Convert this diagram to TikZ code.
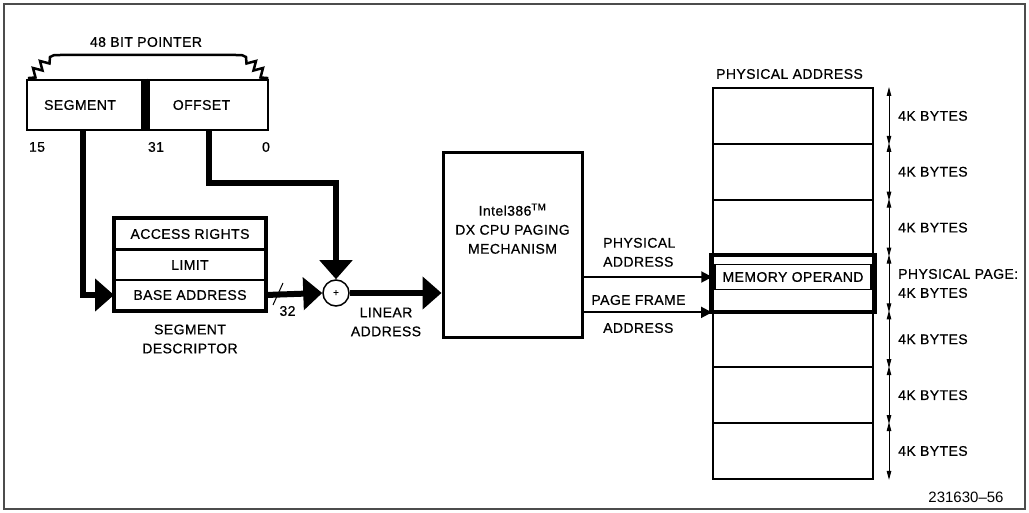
\documentclass[tikz,border=0pt]{standalone}
\usepackage{fontspec}
\setmainfont{Liberation Sans}[FakeBold=0.6, LetterSpace=3]
\newfontfamily\plainsans{Liberation Sans}[Ligatures=TeX]
\usetikzlibrary{arrows.meta,positioning,calc}
\tikzset{
    every node/.style={font=\fontsize{14}{19}\selectfont, inner sep=0pt},
    box/.style={draw, line width=2.5pt, minimum height=50pt},
    descrow/.style={draw, line width=2pt, minimum width=150pt, minimum height=30pt},
    memrow/.style={draw, line width=2pt, minimum width=160pt, minimum height=55.85pt},
    bus/.style={line width=6pt, -{Triangle[length=19pt,width=32pt]}},
    wire/.style={line width=2pt, -{Triangle[length=11pt,width=11pt]}},
    sizearrow/.style={line width=1pt, {Triangle[length=9pt,width=4.5pt]}-{Triangle[length=9pt,width=4.5pt]}}
}

\begin{document}
\begin{tikzpicture}[x=1pt,y=-1pt]
    \useasboundingbox (0,0) rectangle (1029,513);
    \draw[gray!60!black, line width=1.5pt] (4,4) rectangle (1025,509);
    % 48 bit pointer
    \node (ptrlabel) at (146,42) {48 BIT POINTER};
    \node[box, minimum width=116pt] (seg) at (85,105) {SEGMENT\hspace*{10pt}};
    \node[box, minimum width=119pt] (off) at (208.5,105) {OFFSET\hspace*{14pt}};
    \draw[line width=7pt] (seg.north east) -- (seg.south east);
    \draw[line width=2.5pt, line join=miter] (29,81) -- (29,78) -- (35.5,77.5) -- (33,68) -- (42.5,70.5) -- (40,61) -- (49.5,63.5) -- (50,57)
        .. controls (53,55) .. (62,55) -- (234,55) .. controls (243,55) .. (246,57)
        -- (246.5,63.5) -- (256,61) -- (253.5,70.5) -- (263,68) -- (260.5,77.5) -- (267,78) -- (267,81);
    \node (b15) at (37,147) {15};
    \node (b31) at (156,147) {31};
    \node (b0) at (266,147) {0};
    % segment descriptor
    \node[descrow] (access) at (190,234) {ACCESS RIGHTS};
    \node[descrow] (limit) at (190,265) {LIMIT};
    \node[descrow] (base) at (190,295) {BASE ADDRESS};
    \draw[line width=3.5pt] (access.north west) rectangle (base.south east);
    \node[align=center] (desclabel) at (190,339) {SEGMENT\\DESCRIPTOR};
    % adder and paging unit
    \node[draw, circle, line width=1.5pt, minimum size=26pt, font=\fontsize{10}{12}\selectfont] (sum) at (336,293) {+};
    \node[draw, line width=3pt, minimum width=139pt, minimum height=185pt] (paging) at (512.5,245.5) {};
    \node[align=center, anchor=north] (pagingtext) at ([yshift=-52pt]paging.north) {Intel386\textsuperscript{TM}\\DX CPU PAGING\\MECHANISM};
    % physical memory
    \node (memlabel) at (789.5,74) {PHYSICAL ADDRESS};
    \foreach \i in {1,...,7}
        \node[memrow] (m\i) at (793,60.05+55.85*\i) {};
    \draw[line width=3.5pt] ([xshift=-1pt]m4.north west) rectangle ([xshift=1pt]m4.south east);
    \node[draw, line width=1.5pt, minimum width=156pt, minimum height=25pt] (operand) at (793,277) {MEMORY OPERAND};
    \foreach \i in {1,...,7}
        \draw[sizearrow] ([xshift=15pt]m\i.north east) -- ([xshift=15pt]m\i.south east);
    \foreach \i in {1,2,3,5,6,7}
        \node[anchor=west] (size\i) at ([xshift=24pt]m\i.east) {4K BYTES};
    \node[anchor=west, align=left] (size4) at ([xshift=24pt]m4.east) {PHYSICAL PAGE:\\4K BYTES};
    % connectors
    \coordinate (offbend) at (sum.north |- 0,183);
    \draw[bus] ([xshift=-2pt]seg.south) |- (base.west);
    \draw[bus] (off.south) |- (offbend) -- (sum.north);
    \draw[bus] (base.east) -- (sum.west);
    \draw[line width=1pt] (283,283) -- (273,305);
    \node (buswidth) at (287.5,311) {32};
    \draw[bus] (sum.east) -- (sum -| paging.west);
    \node[align=center] (linlabel) at (386,322) {LINEAR\\ADDRESS};
    \draw[wire] (operand.west -| paging.east) -- ([xshift=-2pt]operand.west);
    \draw[wire] (m4.south west -| paging.east) -- (m4.south west);
    \node[anchor=south west, align=left] (physlabel) at (603,267) {PHYSICAL\\ADDRESS};
    \node (pflabel) at (638.5,300) {PAGE FRAME};
    \node[anchor=west] (pfaddr) at (603,328) {ADDRESS};
    \node[font=\plainsans\fontsize{15}{18}\selectfont] (fignum) at (966,497) {231630–56};
\end{tikzpicture}
\end{document}
